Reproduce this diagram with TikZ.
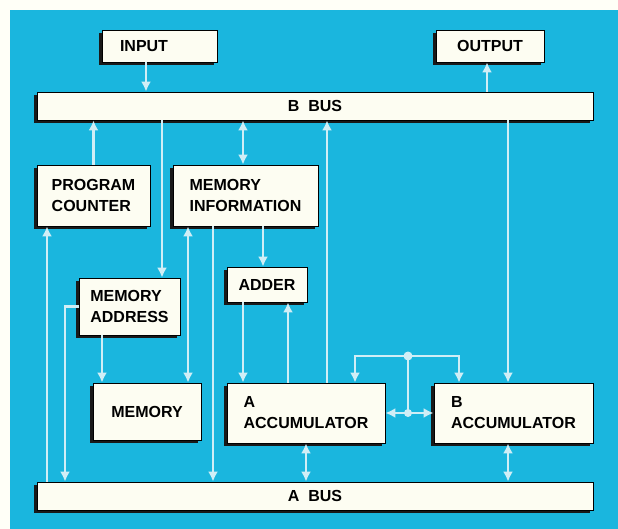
\documentclass[tikz,border=0pt]{standalone}
\usepackage{fontspec}
\setmainfont{Liberation Sans}
\usepackage{xcolor}
\usetikzlibrary{arrows.meta,positioning,shadows}
\definecolor{panelblue}{RGB}{26,182,222}
\definecolor{wirecol}{RGB}{208,238,246}
\definecolor{boxfill}{RGB}{253,253,242}
\tikzset{
  cbox/.style={draw=black, line width=0.8pt, fill=boxfill, align=left, inner sep=0pt, font=\fontsize{16}{21}\selectfont\bfseries, general shadow={fill=black!90, shadow xshift=-3pt, shadow yshift=-3pt}},
  wire/.style={draw=wirecol, line width=2.8pt},
  farr/.style={wire, -{Latex[length=10pt,width=10pt]}},
  darr/.style={wire, {Latex[length=10pt,width=10pt]}-{Latex[length=10pt,width=10pt]}}
}
\begin{document}
\begin{tikzpicture}[x=1pt,y=-1pt]
\fill[white!97!yellow] (0,0) rectangle (618,529);
\fill[panelblue] (10,10) rectangle (618,529);
% units and boxes
\node[cbox, text width=79pt, inner xsep=18pt, minimum height=32pt] (inp) at (159.5,46) {INPUT};
\node[cbox, minimum width=108pt, minimum height=32pt] (outp) at (490,46) {OUTPUT};
\node[cbox, minimum width=556pt, minimum height=28pt] (bbus) at (315,106) {B~~BUS};
\node[cbox, minimum width=113pt, minimum height=61pt] (pc) at (93.5,195.5) {PROGRAM\\COUNTER};
\node[cbox, minimum width=145pt, minimum height=61pt] (minfo) at (245.5,195.5) {MEMORY\\INFORMATION};
\node[cbox, minimum width=80pt, minimum height=35pt] (adder) at (267,284.5) {ADDER};
\node[cbox, minimum width=101pt, minimum height=57pt] (maddr) at (129.5,306.5) {MEMORY\\ADDRESS};
\node[cbox, minimum width=108pt, minimum height=57pt] (mem) at (147,411.5) {MEMORY};
\node[cbox, minimum width=158pt, minimum height=60pt] (acca) at (306,413) {A\\ACCUMULATOR};
\node[cbox, minimum width=159pt, minimum height=60pt] (accb) at (513.5,413) {B\\ACCUMULATOR};
\node[cbox, minimum width=556pt, minimum height=28pt] (abus) at (315,496) {A~~BUS};
% wire columns
\coordinate (kin) at (146,0);
\coordinate (kout) at (487,0);
\coordinate (kpc) at (47,0);
\coordinate (kleft) at (65,0);
\coordinate (kmem) at (102,0);
\coordinate (kma) at (162,0);
\coordinate (kmm) at (188,0);
\coordinate (kab) at (213,0);
\coordinate (kmi) at (243,0);
\coordinate (kadd) at (263,0);
\coordinate (kret) at (288,0);
\coordinate (kup) at (327,0);
\coordinate (ka) at (355,0);
\coordinate (kb) at (459,0);
\coordinate (kbd) at (508,0);
\coordinate (jn) at (408,356);
% B bus side
\draw[farr] (kin |- inp.south) -- (kin |- bbus.north);
\draw[farr] (kout |- bbus.north) -- (kout |- outp.south);
\draw[farr] (pc.north) -- (pc.north |- bbus.south);
\draw[farr] (kma |- bbus.south) -- (kma |- maddr.north);
\draw[darr] (kmi |- bbus.south) -- (kmi |- minfo.north);
\draw[farr] (kup |- acca.north) -- (kup |- bbus.south);
\draw[farr] (kbd |- bbus.south) -- (kbd |- accb.north);
% middle
\draw[farr] (kmem |- maddr.south) -- (kmem |- mem.north);
\draw[darr] (kmm |- minfo.south) -- (kmm |- mem.north);
\draw[farr] (kadd |- minfo.south) -- (kadd |- adder.north);
\draw[farr] (kmi |- adder.south) -- (kmi |- acca.north);
\draw[farr] (kret |- acca.north) -- (kret |- adder.south);
% A bus side
\draw[farr] (kpc |- abus.north) -- (kpc |- pc.south);
\draw[farr] (maddr.west) -| (kleft |- abus.north);
\draw[farr] (kab |- minfo.south) -- (kab |- abus.north);
\draw[darr] (acca.south) -- (acca.south |- abus.north);
\draw[darr] (kbd |- accb.south) -- (kbd |- abus.north);
% accumulator exchange
\draw[farr] (jn) -| (ka |- acca.north);
\draw[farr] (jn) -| (kb |- accb.north);
\draw[wire] (jn) -- (jn |- acca.east);
\draw[farr] (jn |- acca.east) -- (acca.east);
\draw[farr] (jn |- acca.east) -- (accb.west);
\fill[wirecol] (jn) circle (4.5);
\fill[wirecol] (jn |- acca.east) circle (4);
\end{tikzpicture}
\end{document}
